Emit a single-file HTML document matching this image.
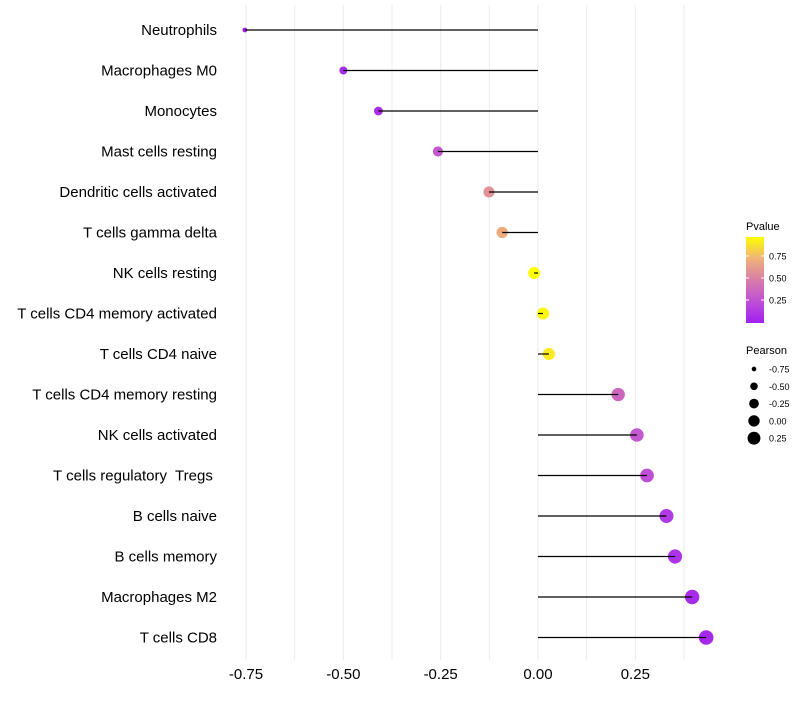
<!DOCTYPE html>
<html><head><meta charset="utf-8"><style>
body{margin:0;background:#fff;font-family:"Liberation Sans",sans-serif}
svg text{font-family:"Liberation Sans",sans-serif;white-space:pre}
</style></head><body>
<svg id="c" width="800" height="700"></svg>
<script>
const categories=["Neutrophils","Macrophages M0","Monocytes","Mast cells resting","Dendritic cells activated","T cells gamma delta","NK cells resting","T cells CD4 memory activated","T cells CD4 naive","T cells CD4 memory resting","NK cells activated","T cells regulatory  Tregs ","B cells naive","B cells memory","Macrophages M2","T cells CD8"];
const pearson=[-0.753,-0.50,-0.41,-0.257,-0.126,-0.092,-0.01,0.013,0.028,0.206,0.254,0.28,0.33,0.352,0.396,0.432];
const pvalue=[0.02,0.06,0.08,0.3,0.6,0.72,1.0,0.97,0.93,0.38,0.3,0.25,0.14,0.1,0.06,0.04];
const xTicks=[-0.75,-0.5,-0.25,0,0.25];
const xTickLabels=["-0.75","-0.50","-0.25","0.00","0.25"];
const pTicks=[0.25,0.5,0.75];
const pTickLabels=["0.25","0.50","0.75"];
const sizeTicks=[-0.75,-0.5,-0.25,0,0.25];
const sizeTickLabels=["-0.75","-0.50","-0.25","0.00","0.25"];

const NS="http://www.w3.org/2000/svg",svg=document.getElementById('c');
function el(t,a,p){const e=document.createElementNS(NS,t);for(const k in a)e.setAttribute(k,a[k]);(p||svg).appendChild(e);return e;}
const x=v=>538+v*389.3;
const y=i=>30+i*40.5;
const r=v=>Math.sqrt(Math.max(3,36+40*v));
const stops=[[0,[160,32,240]],[0.25,[190,80,215]],[0.5,[216,125,170]],[0.75,[240,178,120]],[1,[255,255,0]]];
function col(p){for(let i=1;i<stops.length;i++){if(p<=stops[i][0]){const a=stops[i-1],b=stops[i],t=(p-a[0])/(b[0]-a[0]);return 'rgb('+a[1].map((c,j)=>Math.round(c+(b[1][j]-c)*t)).join(',')+')';}}return 'rgb(255,255,0)';}
const py=p=>322-p*88;

for(let v=-0.75;v<=0.4;v+=0.125){const g=el('line',{x1:x(v),x2:x(v),y1:5,y2:660,stroke:'#ebebeb','stroke-width':1});

}
xTicks.forEach((v,i)=>{const t=el('text',{x:x(v),y:679,'text-anchor':'middle','font-size':15,fill:'#000'});t.textContent=xTickLabels[i];

});
categories.forEach((c,i)=>{
const t=el('text',{x:217,y:y(i)+5,'text-anchor':'end','font-size':15,fill:'#000'});t.textContent=c;


const d=el('circle',{cx:x(pearson[i]),cy:y(i),r:r(pearson[i]),fill:col(pvalue[i])});


const l=el('line',{x1:x(0),x2:x(pearson[i]),y1:y(i),y2:y(i),stroke:'#000','stroke-width':1.2});


});
const defs=el('defs',{});const lg=el('linearGradient',{id:'pg',x1:0,y1:1,x2:0,y2:0},defs);
stops.forEach(s=>el('stop',{offset:s[0],'stop-color':'rgb('+s[1].join(',')+')'},lg));
let tt=el('text',{x:746,y:230,'font-size':11});tt.textContent='Pvalue';


const bar=el('rect',{x:746,y:237,width:18,height:86,fill:'url(#pg)'});


pTicks.forEach((p,i)=>{el('line',{x1:746,x2:749,y1:py(p),y2:py(p),stroke:'#fff'});el('line',{x1:761,x2:764,y1:py(p),y2:py(p),stroke:'#fff'});
const t=el('text',{x:769,y:py(p)+3.5,'font-size':9});t.textContent=pTickLabels[i];

});
tt=el('text',{x:746,y:354,'font-size':11});tt.textContent='Pearson';


sizeTicks.forEach((v,i)=>{const cy=369+i*17.3;el('circle',{cx:754,cy:cy,r:r(v)*0.95,fill:'#000'});
const t=el('text',{x:769,y:cy+3.5,'font-size':9});t.textContent=sizeTickLabels[i];

});
</script>
</body></html>
